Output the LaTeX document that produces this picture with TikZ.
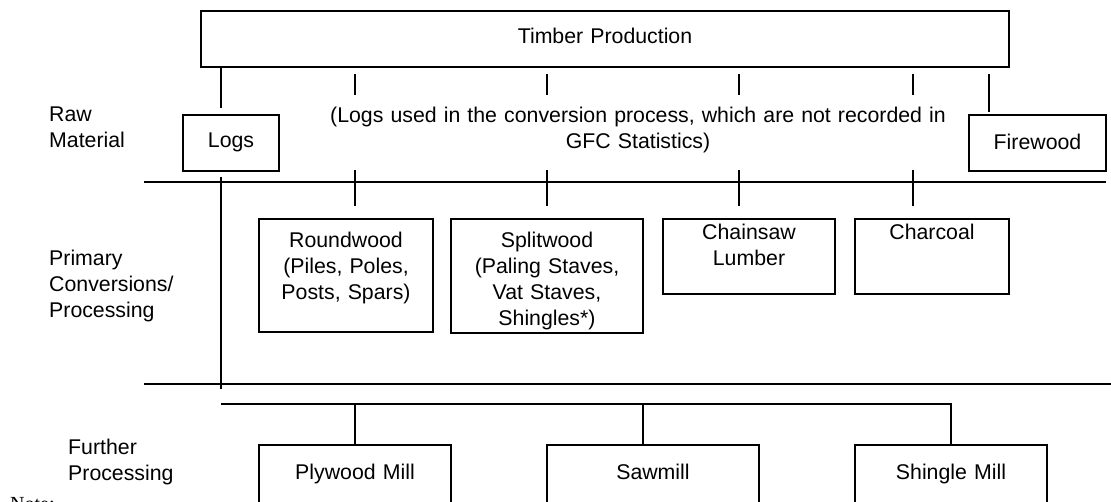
\documentclass[tikz,border=0pt]{standalone}
\usepackage{fontspec}
\setmainfont{Liberation Sans}
\newfontfamily\notefont{Liberation Serif}
\usepackage{tikz}
\usetikzlibrary{positioning, calc}

\begin{document}
\begin{tikzpicture}[x=1pt, y=-1pt, every node/.style={font=\fontsize{21.3}{26}\selectfont}]
\tikzstyle{unit}=[draw, line width=2pt, anchor=north, align=center, inner xsep=0pt, inner ysep=0pt]
\tikzstyle{stage}=[anchor=base west, align=left, text width=140pt, inner sep=0pt]
\tikzstyle{link}=[line width=2pt]
\clip (0,0) rectangle (1111,501);
\node[unit, text width=808pt, text height=32pt, text depth=24pt] (timber) at (605,10) {Timber Production};
\node[unit, text width=96.5pt, text height=32pt, text depth=24pt] (logs) at (231,114) {Logs};
\node[unit, text width=137pt, text height=34pt, text depth=22pt] (firewood) at (1037.5,114) {Firewood};
\node[anchor=base, align=center, text width=640pt, inner sep=0pt] (unrec) at (638,122)
  {(Logs used in the conversion process, which are not recorded in\\GFC Statistics)};
\node[unit, text width=174.5pt, text height=28pt, text depth=85pt] (rw) at (346,218)
  {Roundwood\\(Piles, Poles,\\Posts, Spars)};
\node[unit, text width=192pt, text height=28pt, text depth=86pt] (sw) at (547,218)
  {Splitwood\\(Paling Staves,\\Vat Staves,\\Shingles*)};
\node[unit, text width=172pt, text height=20pt, text depth=55pt] (cs) at (749,218) {Chainsaw\\Lumber};
\node[unit, text width=154.5pt, text height=20pt, text depth=55pt] (cc) at (932,218) {Charcoal};
\node[unit, text width=192pt, text height=34pt, text depth=80pt] (ply) at (355,444) {Plywood Mill};
\node[unit, text width=212pt, text height=34pt, text depth=80pt] (saw) at (653,444) {Sawmill};
\node[unit, text width=192.5pt, text height=34pt, text depth=80pt] (shingle) at (951,444) {Shingle Mill};
\node[stage] (raw) at (49,121) {Raw\\Material};
\node[stage] (primary) at (49,265) {Primary\\Conversions/\\Processing};
\node[stage] (further) at (68,454) {Further\\Processing};
\node[anchor=base west, inner sep=0pt, font=\notefont\fontsize{20}{24}\selectfont] (note) at (10,510) {Note:};
\draw[link] (144,182) -- (1106,182);
\draw[link] (144,384) -- (1111,384);
\draw[link] ([xshift=-10pt]logs.north |- timber.south) -- ++(0,40);
\draw[link] ([xshift=-10pt]logs.south) ++(0,5) -- ++(0,212);
\draw[link] ([xshift=-48.5pt]firewood.north |- timber.south) ++(0,6) -- ++(0,38);
\foreach \n/\dx in {rw/9, sw/0, cs/-10.5, cc/-19}{
  \draw[link] ([xshift=\dx pt]\n.north |- timber.south) ++(0,6) -- ++(0,21);
  \draw[link] ([xshift=\dx pt]\n.north) ++(0,-48) -- ++(0,36);
}
\draw[link] (ply.north) ++(-134,-40) -| (shingle.north);
\draw[link] (ply.north) -- ++(0,-40);
\draw[link] ([xshift=-10pt]saw.north) -- ++(0,-40);
\end{tikzpicture}
\end{document}
